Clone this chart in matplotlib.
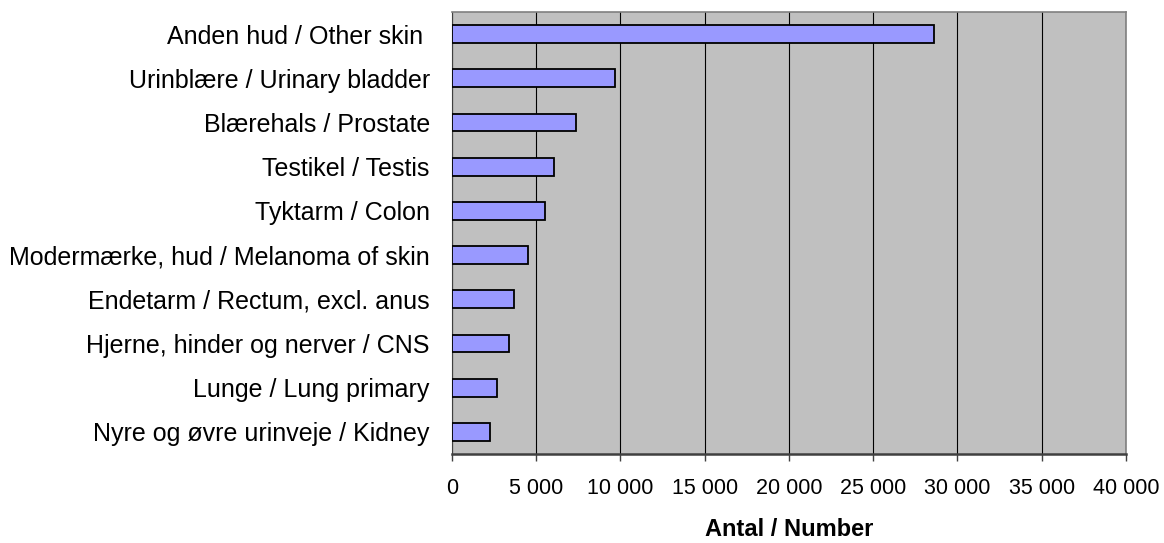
import matplotlib.pyplot as plt
from matplotlib.ticker import FuncFormatter, MultipleLocator

plt.rcParams['font.family'] = ['Liberation Sans', 'DejaVu Sans']

# Kræftformer / cancer sites (top to bottom)
sites = [
    "Anden hud / Other skin ",
    "Urinblære / Urinary bladder",
    "Blærehals / Prostate",
    "Testikel / Testis",
    "Tyktarm / Colon",
    "Modermærke, hud / Melanoma of skin",
    "Endetarm / Rectum, excl. anus",
    "Hjerne, hinder og nerver / CNS",
    "Lunge / Lung primary",
    "Nyre og øvre urinveje / Kidney",
]
counts = [28600, 9680, 7380, 6040, 5510, 4500, 3690, 3400, 2670, 2250]

fig = plt.figure(figsize=(11.64, 5.43), dpi=100)
ax = fig.add_axes([0.3883, 0.1639, 0.5790, 0.8140])
ax.set_facecolor('#C0C0C0')

pos = list(range(len(sites)))
ax.barh(pos, counts, height=0.4, color='#9999FF', edgecolor='black',
        linewidth=1.3, zorder=3)

ax.set_xlim(0, 40000)
ax.set_ylim(len(sites) - 0.5, -0.5)
ax.xaxis.set_major_locator(MultipleLocator(5000))
ax.xaxis.set_major_formatter(FuncFormatter(lambda v, p: f"{int(v):,}".replace(",", " ")))
ax.grid(axis='x', color='black', linewidth=0.8, zorder=1)

ax.set_yticks(pos)
ax.set_yticklabels(sites, fontsize=18)
ax.tick_params(axis='y', length=0, pad=16)
ax.tick_params(axis='x', length=5, width=1, color='#404040', labelsize=15.5, pad=12)

for side in ['top', 'right']:
    ax.spines[side].set_color('#808080')
    ax.spines[side].set_linewidth(1.2)
ax.spines['left'].set_color('#404040')
ax.spines['bottom'].set_color('#404040')
ax.spines['bottom'].set_linewidth(1.8)

ax.set_xlabel('Antal / Number', fontsize=17, fontweight='bold', labelpad=14)

fig.savefig('out.png', dpi=100)
